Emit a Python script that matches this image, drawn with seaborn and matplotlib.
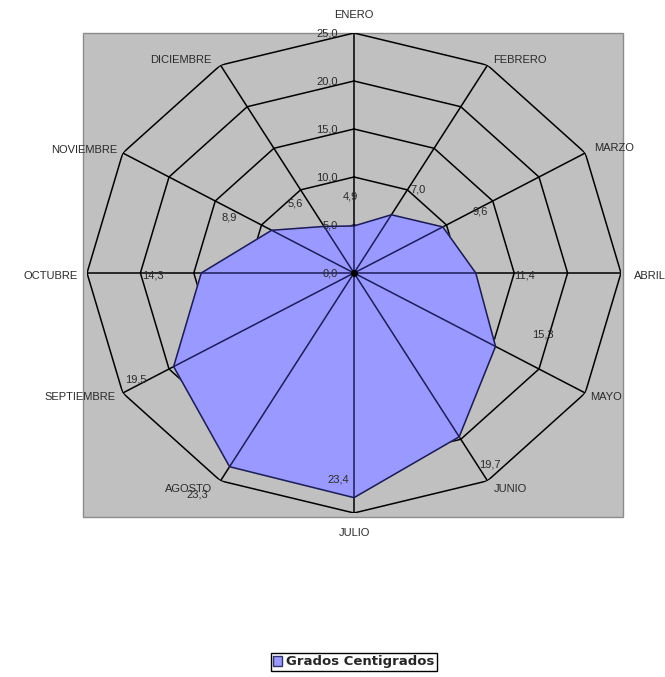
import numpy as np
import pandas as pd
import matplotlib
matplotlib.use("Agg")
import matplotlib.pyplot as plt
from matplotlib.patches import Rectangle, Patch
import seaborn as sns

# Average monthly temperature (°C)
months = ["ENERO", "FEBRERO", "MARZO", "ABRIL", "MAYO", "JUNIO",
          "JULIO", "AGOSTO", "SEPTIEMBRE", "OCTUBRE", "NOVIEMBRE", "DICIEMBRE"]
temps = [4.9, 7.0, 9.6, 11.4, 15.3, 19.7, 23.4, 23.3, 19.5, 14.3, 8.9, 5.6]
radial_ticks = [0, 5, 10, 15, 20, 25]
series_name = "Grados Centigrados"

sns.set_theme(style="white")
plt.rcParams["font.family"] = ["Liberation Sans", "DejaVu Sans"]

W, H = 665, 677
fig = plt.figure(figsize=(W / 100, H / 100), dpi=100)
fig.patch.set_facecolor("white")

def fx(px):
    return px / W

def fy(py):
    return 1 - py / H

# grey plot area
fig.add_artist(Rectangle((fx(83), fy(517)), fx(623) - fx(83), fy(33) - fy(517),
                         transform=fig.transFigure, facecolor="#c0c0c0",
                         edgecolor="#8c8c8c", lw=1.0, zorder=-1))

# elliptical radar axes
ax = fig.add_axes([fx(87), fy(513), fx(621) - fx(87), fy(33) - fy(513)], projection="polar")
ax.set_theta_zero_location("N")
ax.set_theta_direction(-1)
ax.set_ylim(0, 25)
ax.set_aspect("auto")
ax.grid(False)
ax.set_xticks([])
ax.set_yticks([])
ax.spines["polar"].set_visible(False)
ax.patch.set_alpha(0)

n = len(months)
angles = np.arange(n) * 2 * np.pi / n
ang_closed = np.append(angles, 2 * np.pi)

# polygonal gridlines
for r in radial_ticks[1:]:
    ax.plot(ang_closed, [r] * (n + 1), color="black", lw=1.1, zorder=1)
# spokes
for a in angles:
    ax.plot([a, a], [0, 25], color="black", lw=1.1, zorder=1)

# filled series
df = pd.DataFrame({"angle": ang_closed, "temp": temps + [temps[0]]})
ax.fill(df["angle"], df["temp"], color="#9999ff", zorder=2)
sns.lineplot(data=df, x="angle", y="temp", sort=False, ax=ax,
             color="#1c1c50", lw=1.1, zorder=3)
for a, v in zip(angles, temps):
    ax.plot([a, a], [0, v], color="#1c1c5c", lw=1.1, zorder=3)
ax.plot([0], [0], marker="o", ms=4, color="black", zorder=4)
ax.set_xlabel("")
ax.set_ylabel("")

txt_color = "#2a2a2a"

# radial tick labels
for r in radial_ticks:
    ax.annotate(f"{r:.1f}".replace(".", ","), xy=(0, r), xytext=(-16, 0),
                textcoords="offset pixels", ha="right", va="center",
                fontsize=8, color=txt_color, zorder=5)

# category labels
cat_offsets = [(0, 18, "center"), (6, 5, "left"), (9, 5, "left"), (13, -3, "left"),
               (5, -4, "left"), (6, -8, "left"), (0, -20, "center"), (-8, -8, "right"),
               (-7, -4, "right"), (-9, -3, "right"), (-5, 3, "right"), (-9, 5, "right")]
for a, m, (dx, dy, ha) in zip(angles, months, cat_offsets):
    ax.annotate(m, xy=(a, 25), xytext=(dx, dy), textcoords="offset pixels",
                ha=ha, va="center", fontsize=8, color=txt_color,
                annotation_clip=False, zorder=5)

# data labels
val_offsets = [(-4, 29), (27, 25), (37, 15), (49, -3), (47, 12), (31, -28),
               (-16, 18), (-32, -28), (-38, -13), (-48, -2), (-42, 13), (-29, 23)]
for a, v, (dx, dy) in zip(angles, temps, val_offsets):
    ax.annotate(f"{v:.1f}".replace(".", ","), xy=(a, v), xytext=(dx, dy),
                textcoords="offset pixels", ha="center", va="center",
                fontsize=8, color=txt_color, zorder=5)

# legend
handle = Patch(facecolor="#9999ff", edgecolor="#333366", lw=1.0)
leg = fig.legend([handle], [series_name], loc="center",
                 bbox_to_anchor=(fx(354), fy(662)), frameon=True, fancybox=False,
                 framealpha=1, edgecolor="black", handlelength=0.7, handleheight=0.7,
                 handletextpad=0.3, borderpad=0.2,
                 prop={"family": "DejaVu Sans", "weight": "bold", "size": 9.5})
leg.get_frame().set_linewidth(1.0)

fig.savefig("out.png", dpi=100)
